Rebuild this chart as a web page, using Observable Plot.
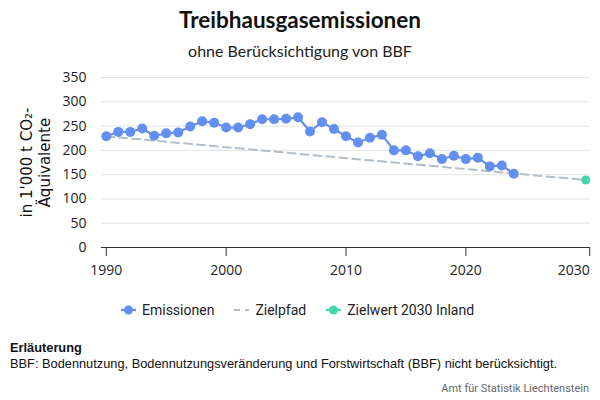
<!DOCTYPE html>
<html>
<head>
<meta charset="utf-8">
<script src="https://cdn.jsdelivr.net/npm/d3@7"></script>
<script src="https://cdn.jsdelivr.net/npm/@observablehq/plot@0.6"></script>
<style>
  html, body { margin: 0; padding: 0; background: #fff; width: 600px; height: 400px; overflow: hidden; }
  .abs { position: absolute; }
  #title { top: 6px; left: 0; width: 600px; text-align: center; font: bold 22.5px Lato, sans-serif; line-height: 28px; color: #111; }
  #subtitle { top: 41px; left: 0; width: 600px; text-align: center; font: 16px Lato, sans-serif; line-height: 20px; color: #222; }
  #chart { top: 60px; left: 0; }
  #legend { top: 300px; left: 121px; font: 14px Roboto, sans-serif; color: #222; display: flex; align-items: center; line-height: 20px; }
  #legend .item { display: flex; align-items: center; margin-right: 20px; }
  #legend svg { margin-right: 6px; }
  #note { top: 340px; left: 10px; font: 12.8px "Liberation Sans", Arial, sans-serif; color: #111; line-height: 15.5px; }
  #source { top: 382px; right: 11px; font: 11px Roboto, sans-serif; color: #666; }
</style>
</head>
<body>
<div id="title" class="abs">Treibhausgasemissionen</div>
<div id="subtitle" class="abs">ohne Berücksichtigung von BBF</div>
<div id="chart" class="abs"></div>
<div id="legend" class="abs"></div>
<div id="note" class="abs"><b>Erläuterung</b><br>BBF: Bodennutzung, Bodennutzungsveränderung und Forstwirtschaft (BBF) nicht berücksichtigt.</div>
<div id="source" class="abs">Amt für Statistik Liechtenstein</div>
<script>
const years = [1990,1991,1992,1993,1994,1995,1996,1997,1998,1999,2000,2001,2002,2003,2004,2005,2006,2007,2008,2009,2010,2011,2012,2013,2014,2015,2016,2017,2018,2019,2020,2021,2022,2023,2024];
const emissions = [229,238,238,245,230,235,237,249,260,257,247,247,254,264,264,265,268,239,258,244,229,216,226,232,200,200,188,194,182,189,182,185,167,169,152];
const pathYears = [1990, 2030];
const pathValues = [229, 139];
const targetYears = [2030];
const targetValues = [139];
const xTicks = [1990, 2000, 2010, 2020, 2030];
const yTicks = [0, 50, 100, 150, 200, 250, 300, 350];
const yLabel = "in 1'000 t CO₂-\nÄquivalente";
const seriesNames = ["Emissionen", "Zielpfad", "Zielwert 2030 Inland"];

const blue = "#6390f0", grey = "#b3bec6", green = "#45d6ad";

const emData = years.map((y, i) => ({year: y, value: emissions[i]}));
const pathData = pathYears.map((y, i) => ({year: y, value: pathValues[i]}));
const targetData = targetYears.map((y, i) => ({year: y, value: targetValues[i]}));
const lastTick = xTicks[xTicks.length - 1];

const plot = Plot.plot({
  width: 600,
  height: 220,
  marginLeft: 101,
  marginRight: 10,
  marginTop: 17,
  marginBottom: 33,
  style: {fontFamily: "'Open Sans', sans-serif", fontSize: "14px", color: "#222", background: "transparent"},
  x: {domain: [1989.6, 2030.4]},
  y: {domain: [0, 350]},
  marks: [
    Plot.gridY(yTicks, {stroke: "#e3e3e3", strokeOpacity: 1, strokeWidth: 1}),
    Plot.axisY(yTicks, {tickSize: 0, tickPadding: 15, fontSize: 14, label: null}),
    Plot.axisX(xTicks.slice(0, -1), {tickSize: 9, tickPadding: 9, fontSize: 14, label: null, tickFormat: d => String(d), stroke: "#333"}),
    Plot.axisX([lastTick], {tickSize: 9, tickPadding: 9, fontSize: 14, label: null, tickFormat: d => String(d), stroke: "#333", textAnchor: "end", dx: 4}),
    Plot.ruleY([0], {stroke: "#333", strokeWidth: 1}),
    Plot.line(pathData, {x: "year", y: "value", stroke: grey, strokeWidth: 2, strokeDasharray: "8,5"}),
    Plot.line(emData, {x: "year", y: "value", stroke: blue, strokeWidth: 2.2}),
    Plot.dot(emData, {x: "year", y: "value", fill: blue, r: 5}),
    Plot.dot(targetData, {x: "year", y: "value", fill: green, r: 4.5}),
    Plot.text([yLabel], {frameAnchor: "left", dx: -66, rotate: -90, fontSize: 15, lineHeight: 1.15, textAnchor: "middle", fill: "#111", fontFamily: "'DejaVu Sans', sans-serif"})
  ]
});
document.getElementById("chart").appendChild(plot);

// legend
const legend = document.getElementById("legend");
const swatches = [
  `<svg width="15" height="12"><line x1="0" y1="6" x2="15" y2="6" stroke="${blue}" stroke-width="2.2"/><circle cx="7.5" cy="6" r="4.5" fill="${blue}"/></svg>`,
  `<svg width="15" height="12"><line x1="0" y1="6" x2="15" y2="6" stroke="${grey}" stroke-width="2" stroke-dasharray="6,5"/></svg>`,
  `<svg width="15" height="12"><line x1="0" y1="6" x2="15" y2="6" stroke="${green}" stroke-width="2.2"/><circle cx="7.5" cy="6" r="4.5" fill="${green}"/></svg>`
];
seriesNames.forEach((name, i) => {
  const d = document.createElement("div");
  d.className = "item";
  d.innerHTML = swatches[i] + `<span>${name}</span>`;
  legend.appendChild(d);
});
</script>
</body>
</html>
